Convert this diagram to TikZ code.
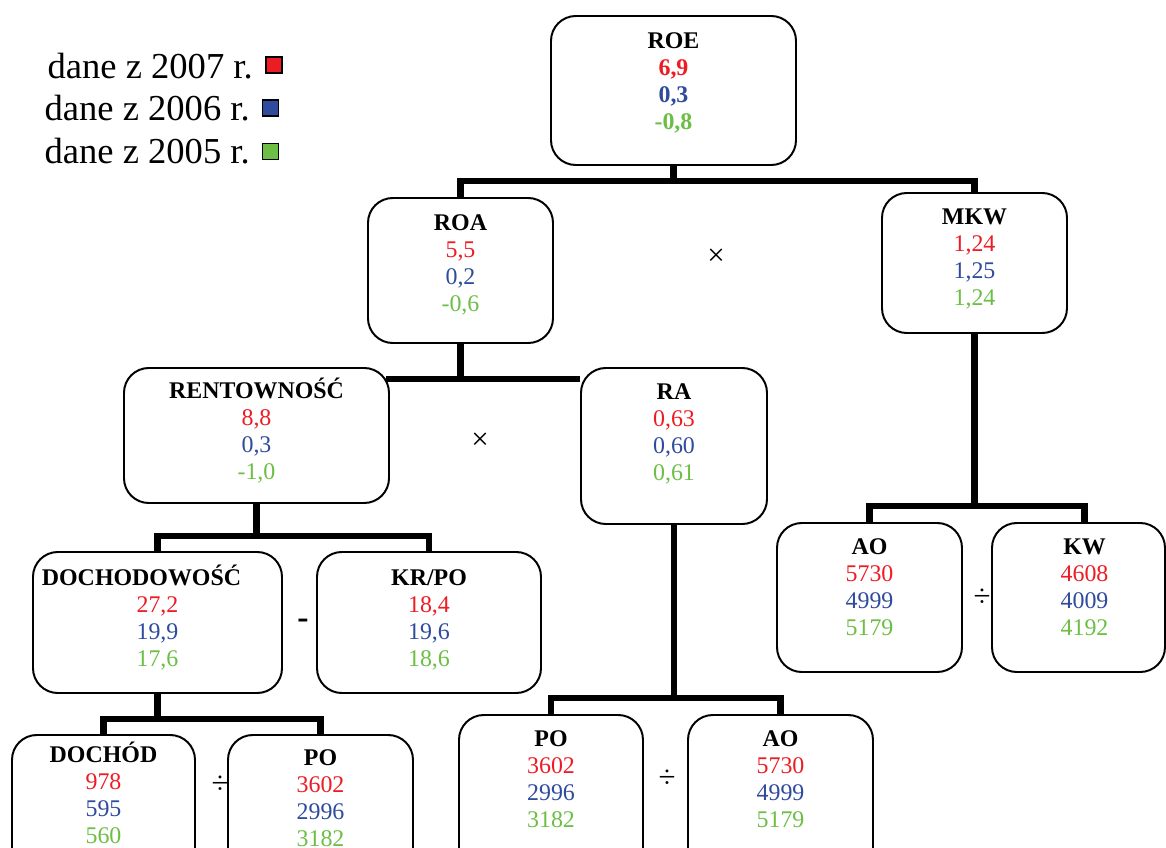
\documentclass[tikz,border=0pt]{standalone}
\usepackage{fontspec}
\setmainfont{Liberation Serif}
\usepackage{xcolor}
\usepackage{tikz}
\usetikzlibrary{positioning,fit}
\definecolor{kred}{HTML}{ED1C24}
\definecolor{kblue}{HTML}{2E4B9D}
\definecolor{kgreen}{HTML}{6CBE45}
\newcommand{\ktitle}[1]{\textbf{#1}\vphantom{ÓŚ}}
\newcommand{\vred}[1]{\textcolor{kred}{#1}}
\newcommand{\vblue}[1]{\textcolor{kblue}{#1}}
\newcommand{\vgreen}[1]{\textcolor{kgreen}{#1}}
\tikzset{
  kbox/.style={draw=black, line width=1.4pt, rounded corners=0.62cm, inner sep=0pt},
  kline/.style={draw=black, line width=4.3pt},
  ktext/.style={align=center, inner sep=0pt, font=\fontsize{17}{19.2}\selectfont},
  kbold/.style={ktext, font=\bfseries\fontsize{17}{19.2}\selectfont},
  kop/.style={inner sep=0pt, font=\fontsize{22}{24}\selectfont},
  kleg/.style={anchor=base east, inner sep=0pt, font=\fontsize{26}{28}\selectfont},
  kkey/.style={draw=black, line width=1.3pt, minimum size=0.4cm, inner sep=0pt},
}

\begin{document}
\begin{tikzpicture}[x=0.025cm,y=-0.025cm]
  \clip (0,0) rectangle (1166,848);

  % --- legenda ---
  \node[kleg] (leg7) at (253,78) {dane z 2007 r.};
  \node[kleg] (leg6) at (250,120) {dane z 2006 r.};
  \node[kleg] (leg5) at (250,163) {dane z 2005 r.};
  \node[kkey, fill=kred] (key7) at (274,65) {};
  \node[kkey, fill=kblue] (key6) at (270.5,108) {};
  \node[kkey, fill=kgreen] (key5) at (270.5,151.5) {};

  % --- poziom 1 ---
  \node[kbox, fit={(551,16) (796,165)}] (roe) {};
  \node[kbold, below=0.325cm of roe.north] (roet)
    {\ktitle{ROE}\\ \vred{6,9}\\ \vblue{0,3}\\ \vgreen{-0,8}};

  % --- poziom 2 ---
  \node[kbox, fit={(368,198) (553,343)}] (roa) {};
  \node[ktext, below=0.325cm of roa.north] (roat)
    {\ktitle{ROA}\\ \vred{5,5}\\ \vblue{0,2}\\ \vgreen{-0,6}};
  \node[kbox, fit={(882,193) (1067,333)}] (mkw) {};
  \node[ktext, below=0.3cm of mkw.north] (mkwt)
    {\ktitle{MKW}\\ \vred{1,24}\\ \vblue{1,25}\\ \vgreen{1,24}};
  \node[kop] (op1) at (716,257) {×};

  % --- poziom 3 ---
  \node[kbox, fit={(124,368) (389,503)}] (rent) {};
  \node[ktext, below=0.275cm of rent.north] (rentt)
    {\ktitle{RENTOWNOŚĆ}\\ \vred{8,8}\\ \vblue{0,3}\\ \vgreen{-1,0}};
  \node[kbox, fit={(581,368) (767,524)}] (ra) {};
  \node[ktext, below=0.3cm of ra.north] (rat)
    {\ktitle{RA}\\ \vred{0,63}\\ \vblue{0,60}\\ \vgreen{0,61}};
  \node[kop] (op2) at (480,441) {×};

  \node[kbox, fit={(777,523) (962,672)}] (aob) {};
  \node[ktext, below=0.3cm of aob.north] (aobt)
    {\ktitle{AO}\\ \vred{5730}\\ \vblue{4999}\\ \vgreen{5179}};
  \node[kbox, fit={(992,523) (1165,672)}] (kw) {};
  \node[ktext, below=0.3cm of kw.north, xshift=0.15cm] (kwt)
    {\ktitle{KW}\\ \vred{4608}\\ \vblue{4009}\\ \vgreen{4192}};
  \coordinate (kwtop) at ([xshift=0.15cm]kw.north);
  \node[kop] (op5) at (982,598) {÷};

  % --- poziom 4 ---
  \node[kbox, fit={(33,552) (282,693)}] (doch) {};
  \node[ktext, below=0.35cm of doch.north] (docht)
    {\ktitle{DOCHODOWOŚĆ}\hspace*{0.8cm}\\ \vred{27,2}\\ \vblue{19,9}\\ \vgreen{17,6}};
  \node[kbox, fit={(317,552) (541,693)}] (krpo) {};
  \node[ktext, below=0.35cm of krpo.north] (krpot)
    {\ktitle{KR/PO}\\ \vred{18,4}\\ \vblue{19,6}\\ \vgreen{18,6}};
  \node[kop, font=\bfseries\fontsize{24}{24}\selectfont] (op3) at (303,624) {-};

  \node[kbox, fit={(459,715) (643,880)}] (pob) {};
  \node[ktext, below=0.2875cm of pob.north] (pobt)
    {\ktitle{PO}\\ \vred{3602}\\ \vblue{2996}\\ \vgreen{3182}};
  \node[kbox, fit={(688,715) (873,880)}] (aoa) {};
  \node[ktext, below=0.2875cm of aoa.north] (aoat)
    {\ktitle{AO}\\ \vred{5730}\\ \vblue{4999}\\ \vgreen{5179}};
  \node[kop] (op6) at (667,779) {÷};

  % --- poziom 5 ---
  \node[kbox, fit={(12,735) (195,880)}] (dochod) {};
  \node[ktext, below=0.1875cm of dochod.north] (dochodt)
    {\ktitle{DOCHÓD}\\ \vred{978}\\ \vblue{595}\\ \vgreen{560}};
  \node[kbox, fit={(228,735) (413,880)}] (poa) {};
  \node[ktext, below=0.2625cm of poa.north] (poat)
    {\ktitle{PO}\\ \vred{3602}\\ \vblue{2996}\\ \vgreen{3182}};
  \node[kop] (op4) at (220,785) {÷};

  % --- polaczenia ---
  \draw[kline] (roe.south) -- ++(0,15) coordinate (j1);
  \draw[kline] (roa.north) |- (j1) -| (mkw.north);
  \draw[kline] (roa.south) -- ++(0,35) coordinate (j2);
  \draw[kline] ([xshift=-0.1cm]rent.east |- j2) -- (ra.west |- j2);
  \draw[kline] (rent.south) -- ++(0,32) coordinate (j3);
  \draw[kline] (doch.north) |- (j3) -| (krpo.north);
  \draw[kline] (ra.south) -- ++(0,173) coordinate (j4);
  \draw[kline] (pob.north) |- (j4) -| (aoa.north);
  \draw[kline] (mkw.south) -- ++(0,172) coordinate (j5);
  \draw[kline] (aob.north) |- (j5) -| (kwtop);
  \draw[kline] (doch.south) -- ++(0,25) coordinate (j6);
  \draw[kline] (dochod.north) |- (j6) -| (poa.north);

\end{tikzpicture}
\end{document}
